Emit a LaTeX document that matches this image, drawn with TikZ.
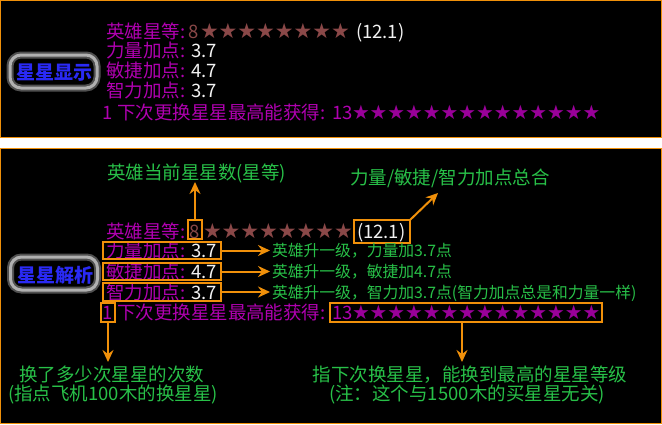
\documentclass[tikz,border=0pt]{standalone}
\usepackage{fontspec}
\newfontfamily\cjk{Noto Sans CJK SC}
\newfontfamily\dejavu{DejaVu Sans}
\usetikzlibrary{arrows.meta}
\definecolor{pur}{HTML}{B000B0}
\definecolor{pur2}{HTML}{9A009A}
\definecolor{brn}{HTML}{8A4848}
\definecolor{wht}{HTML}{F2F2F2}
\definecolor{grn}{HTML}{28C048}
\definecolor{org}{HTML}{F0900A}
\definecolor{btnblue}{HTML}{2A2AF5}
\definecolor{glowdark}{HTML}{505050}
\definecolor{glowlight}{HTML}{B0B0B0}
\begin{document}
\begin{tikzpicture}[x=1pt,y=-1pt,
  every node/.style={inner sep=0pt, outer sep=0pt},
  big/.style={font=\cjk\fontsize{18.5}{18.5}\selectfont, text height=16pt, text depth=2pt, anchor=west},
  small/.style={font=\cjk\fontsize{15.8}{15.8}\selectfont, text height=13.9pt, text depth=1.9pt, anchor=west, text=grn},
  lab/.style={big, text=pur},
  val/.style={big, text=wht},
  ann/.style={big, text=grn},
  starsA/.style={big, text=brn, font=\dejavu\fontsize{20.9}{20.9}\selectfont},
  starsB/.style={big, text=pur2, font=\dejavu\fontsize{19.8}{19.8}\selectfont},
  obox/.style={draw=org, line width=1.3pt},
  arr/.style={draw=org, line width=2pt, -{Stealth[length=12pt,width=11pt,inset=4pt]}},
  panel/.style={draw=org, line width=1.3pt, fill=black},
  btnframe/.style={draw=glowdark, line width=7pt, rounded corners=11pt,
     postaction={draw=glowlight, line width=3pt}, minimum width=87pt, minimum height=33pt},
  btntext/.style={font=\cjk\bfseries\fontsize{19}{19}\selectfont, text=btnblue, anchor=center},
]
\fill[white] (0,0) rectangle (662,424);
\useasboundingbox (0,0) rectangle (662,424);
\path[panel] (0.65,0.65) rectangle (661.35,137.5);
\path[panel] (0.65,148.5) rectangle (661.35,423.35);

% ---------- panel 1 ----------
\node[btnframe] (b1) at (53.5,71.5) {};
\node[btntext] (bt1) at (54.5,73) {星星显示};

\node[lab] (p1l1) at (106,31) {英雄星等:};
\node[big, anchor=center, text=brn] (p1v1) at (194,31) {8};
\node[starsA] (p1s1) at (200,31) {★★★★★★★★};
\node[val] (p1p1) at (356,31) {(12.1)};

\node[lab] (p1l2) at (106,50.5) {力量加点:};
\node[val] (p1v2) at (191,50.5) {3.7};
\node[lab] (p1l3) at (106,70.5) {敏捷加点:};
\node[val] (p1v3) at (191,70.5) {4.7};
\node[lab] (p1l4) at (106,90.5) {智力加点:};
\node[val] (p1v4) at (191,90.5) {3.7};

\node[lab, anchor=center] (p1n5) at (108,112) {1};
\node[lab] (p1l5) at (117,112) {下次更换星星最高能获得:};
\node[lab] (p1v5) at (332,112) {13};
\node[starsB] (p1s5) at (352,112) {★★★★★★★★★★★★★★};

% ---------- panel 2 ----------
\node[btnframe] (b2) at (54,273.5) {};
\node[btntext] (bt2) at (55,275) {星星解析};

\node[lab] (p2l1) at (106,231) {英雄星等:};
\node[big, anchor=center, text=brn] (p2v1) at (195,231) {8};
\node[starsA] (p2s1) at (203,231) {★★★★★★★★};
\node[val] (p2p1) at (357,231) {(12.1)};

\node[lab] (p2l2) at (106,250.5) {力量加点:};
\node[val] (p2v2) at (191,250.5) {3.7};
\node[lab] (p2l3) at (106,271.5) {敏捷加点:};
\node[val] (p2v3) at (191,271.5) {4.7};
\node[lab] (p2l4) at (106,292) {智力加点:};
\node[val] (p2v4) at (191,292) {3.7};

\node[lab, anchor=center] (p2n5) at (108,312.5) {1};
\node[lab] (p2l5) at (117,312.5) {下次更换星星最高能获得:};
\node[lab] (p2v5) at (332,312.5) {13};
\node[starsB] (p2s5) at (352,312.5) {★★★★★★★★★★★★★★};

% boxes
\node[obox, minimum width=14pt, minimum height=19pt] (k8) at (195,229.5) {};
\node[obox, minimum width=56pt, minimum height=23pt] (k12) at (382,231.5) {};
\node[obox, minimum width=118pt, minimum height=17pt] (k2) at (162,250.5) {};
\node[obox, minimum width=118pt, minimum height=17pt] (k3) at (162,271.5) {};
\node[obox, minimum width=118pt, minimum height=18pt] (k4) at (162,292) {};
\node[obox, minimum width=14pt, minimum height=19pt] (k1) at (108,312.5) {};
\node[obox, minimum width=272pt, minimum height=19pt] (k13) at (466,312.5) {};

% annotations
\node[ann] (a1) at (107,172) {英雄当前星星数(星等)};
\node[ann] (a2) at (350,177) {力量/敏捷/智力加点总合};
\node[small] (r2) at (272,250.5) {英雄升一级，力量加3.7点};
\node[small] (r3) at (272,271) {英雄升一级，敏捷加4.7点};
\node[small] (r4) at (272,292) {英雄升一级，智力加3.7点(智力加点总是和力量一样)};
\node[ann, anchor=center] (a3) at (112,374) {换了多少次星星的次数};
\node[ann, anchor=center] (a4) at (113,393) {(指点飞机100木的换星星)};
\node[ann, anchor=center] (a5) at (470,374) {指下次换星星，能换到最高的星星等级};
\node[ann, anchor=center] (a6) at (467,393) {(注：这个与1500木的买星星无关)};

% arrows
\coordinate (t1) at (195,182);
\coordinate (t2) at (438,193);
\coordinate (t6) at (108,362);
\coordinate (t7) at (462,362);
\draw[arr] (k8.north) -- (t1);
\draw[arr] (k12.north east) -- (t2);
\draw[arr, shorten >=2pt] (k2.east) -- (r2.west);
\draw[arr, shorten >=2pt] (k3.east) -- (k3.east -| r3.west);
\draw[arr, shorten >=2pt] (k4.east) -- (r4.west);
\draw[arr] (k1.south) -- (t6);
\draw[arr] (k13.south -| t7) -- (t7);
\end{tikzpicture}
\end{document}
